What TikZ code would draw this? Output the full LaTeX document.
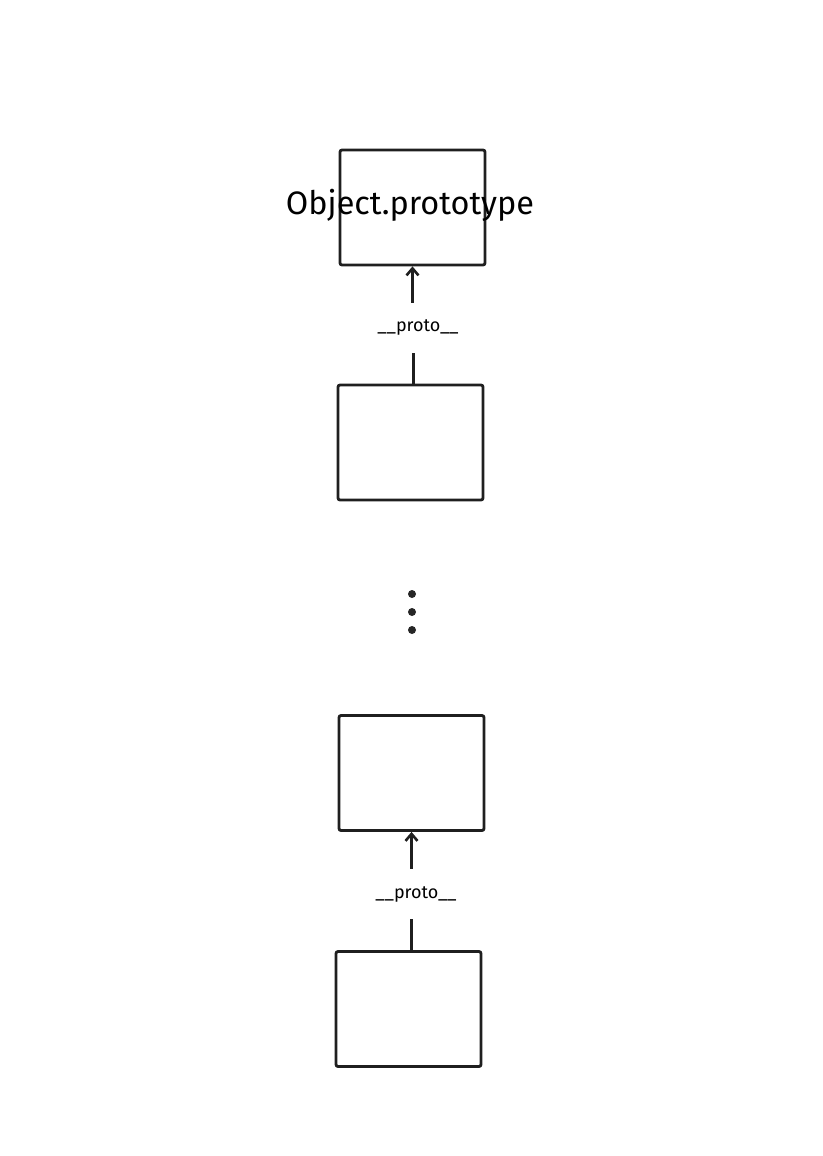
\documentclass[tikz,border=0pt]{standalone}
\usepackage{fontspec}
\setmainfont{Fira Sans}
\usetikzlibrary{arrows.meta}
\begin{document}
\begin{tikzpicture}[x=1pt,y=-1pt,
 box/.style={draw=black!88,line width=2.8pt,rounded corners=2pt,minimum width=145pt,minimum height=115pt,inner sep=0pt},
 lab/.style={inner sep=0pt,minimum height=50pt,font=\fontsize{18}{18}\selectfont},
 conn/.style={draw=black!88,line width=2.6pt,-{Straight Barb[length=7pt,width=12pt]}},
 ln/.style={draw=black!88,line width=2.6pt},
 dot/.style={circle,fill=black!85,inner sep=0pt,minimum size=8pt}]
\useasboundingbox (0,0) rectangle (822,1156);
\node[box] (b1) at (412.5,207.5) {};
\node (t1) at (410,205) {\resizebox{248pt}{!}{\fontsize{31}{31}\selectfont Object.prototype}};
\node[lab] (l1) at (418,328) {\_\_proto\_\_};
\node[box] (b2) at (410.5,442.5) {};
\node[dot] (d1) at (412,594) {};
\node[dot] (d2) at (412,612) {};
\node[dot] (d3) at (412,630) {};
\node[box] (b3) at (411.5,773) {};
\node[lab] (l2) at (416,894) {\_\_proto\_\_};
\node[box] (b4) at (408.5,1009) {};
\draw[conn] (l1.north -| b1.south) -- (b1.south);
\draw[ln] (b2.north) ++(3,0) coordinate (c1) -- (c1 |- l1.south);
\draw[conn] (l2.north -| b3.south) -- (b3.south);
\draw[ln] (b4.north) ++(3,0) coordinate (c2) -- (c2 |- l2.south);
\end{tikzpicture}
\end{document}
